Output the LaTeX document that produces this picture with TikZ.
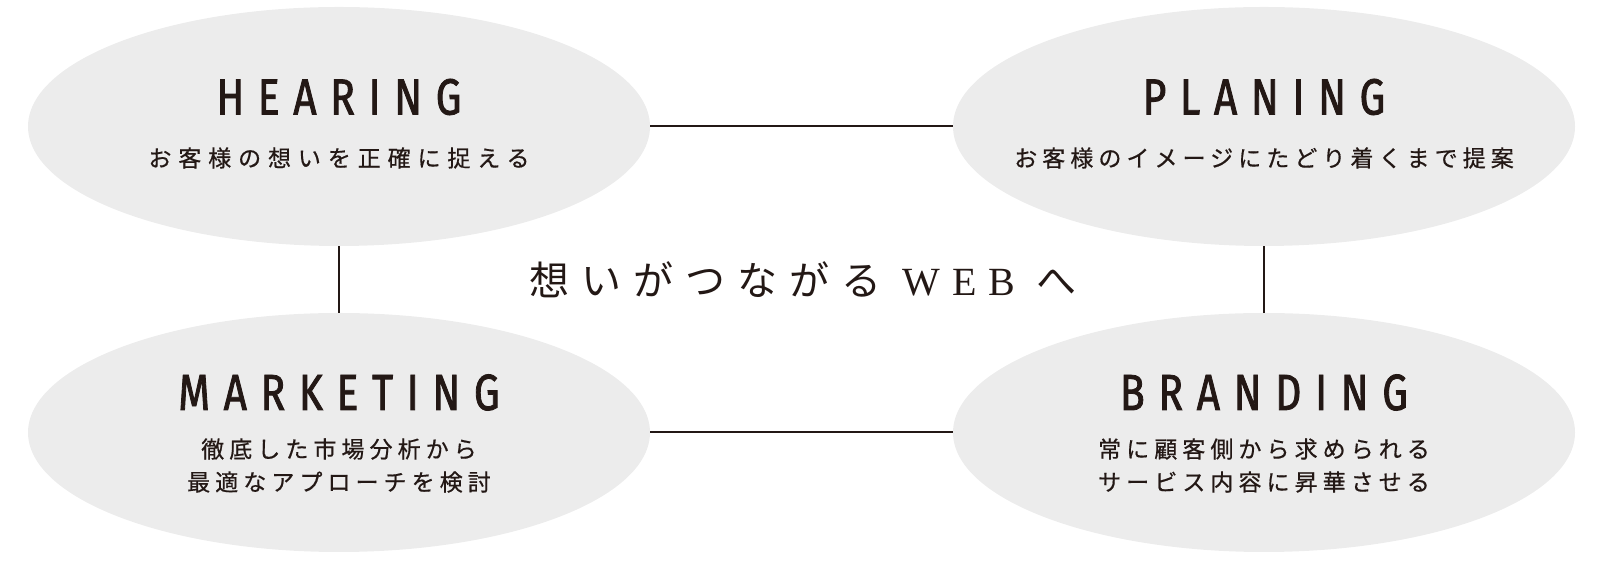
\documentclass[tikz,border=0pt]{standalone}
\usepackage{fontspec}
\usepackage{xcolor}
\usetikzlibrary{calc,positioning,shapes.geometric}

\setmainfont{Liberation Serif}
\newfontfamily\jpwide[LetterSpace=30,FakeBold=0.6]{Noto Sans CJK JP}
\newfontfamily\jpsub[LetterSpace=22,FakeBold=0.6]{Noto Sans CJK JP}
\newfontfamily\jptitle[LetterSpace=30]{Noto Sans CJK JP}
\newfontfamily\titlefont[LetterSpace=30]{Liberation Serif}
\newfontfamily\headfont[FakeStretch=0.8,LetterSpace=27,FakeBold=1.6]{Fira Sans}

\definecolor{inkblack}{RGB}{35,24,21}
\definecolor{bubblegray}{RGB}{236,236,236}

\begin{document}
\begin{tikzpicture}[x=0.5pt, y=0.5pt,
    bubble/.style = {ellipse, fill=bubblegray, inner sep=0pt,
        minimum width=311pt, minimum height=119.5pt},
    headtext/.style = {text=inkblack, inner sep=0pt,
        font=\headfont\fontsize{25.4}{26}\selectfont},
    subtext/.style = {text=inkblack, inner sep=0pt, align=center,
        font=\jpsub\fontsize{11.5}{16.5}\selectfont},
    link/.style = {draw=inkblack, line width=1pt}]

    \useasboundingbox (0,0) rectangle (1600,566);

    % the four bubbles
    \node[bubble] (hearing)   at (339,439.5) {};
    \node[bubble] (planing)   at (1264,439.5) {};
    \node[bubble] (marketing) at (339,133.5) {};
    \node[bubble] (branding)  at (1264,133.5) {};

    % links between them
    \draw[link] (hearing) -- (planing);
    \draw[link] (hearing) -- (marketing);
    \draw[link] (planing) -- (branding);
    \draw[link] (marketing) -- (branding);

    % headings
    \node[headtext] (hearinghead)   at ($(hearing)+(0,29.5)$)   {HEARING};
    \node[headtext] (planinghead)   at ($(planing)+(0,29.5)$)   {PLANING};
    \node[headtext] (marketinghead) at ($(marketing)+(0,40)$)   {MARKETING};
    \node[headtext] (brandinghead)  at ($(branding)+(0,40)$)    {BRANDING};

    % captions
    \node[subtext, font=\jpwide\fontsize{11.5}{16.5}\selectfont] (hearingsub)
        at ($(hearing)+(0,-31.5)$) {お客様の想いを正確に捉える};
    \node[subtext] (planingsub) at ($(planing)+(0,-31.5)$)
        {お客様のイメージにたどり着くまで提案};
    \node[subtext] (marketingsub) at ($(marketing)+(0,-33)$)
        {徹底した市場分析から\\最適なアプローチを検討};
    \node[subtext] (brandingsub) at ($(branding)+(0,-33)$)
        {常に顧客側から求められる\\サービス内容に昇華させる};

    % centre title
    \node[text=inkblack, inner sep=0pt] (slogan) at (803,286)
        {\fontsize{20}{24}\selectfont\jptitle 想いがつながる\ {\titlefont WEB}\ へ};
\end{tikzpicture}
\end{document}
